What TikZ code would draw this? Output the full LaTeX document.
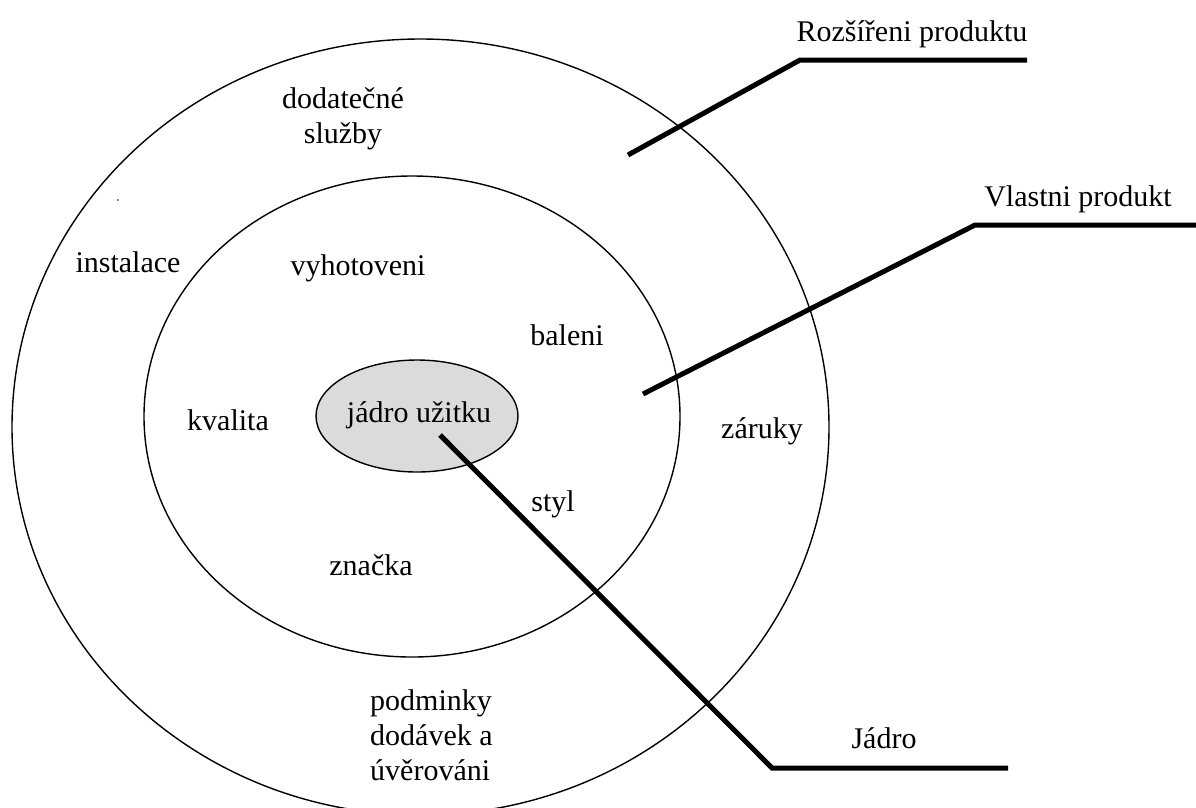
\documentclass[tikz,border=0pt]{standalone}
\usepackage{fontspec}
\setmainfont{Liberation Serif}
\begin{document}
\begin{tikzpicture}[x=1pt,y=-1pt,
  ring/.style={draw=black, line width=1.4pt},
  core/.style={draw=black, line width=1.4pt, fill=black!14},
  lbl/.style={inner sep=0pt, font=\fontsize{30}{35}\selectfont},
  leader/.style={draw=black, line width=5pt, line join=miter}]
\useasboundingbox (0,0) rectangle (1196,807);
\clip (0,0) rectangle (1196,807);
% rings
\draw[ring] (420.5,427) ellipse [x radius=408.5, y radius=388];
\draw[ring] (412,416.5) ellipse [x radius=268, y radius=240.5];
\draw[core] (417,416) ellipse [x radius=101, y radius=56];
\fill (118,200) circle [radius=0.9];
% texts inside
\node[lbl, align=center] (dodat) at (343,119) {dodatečné\\služby};
\node[lbl, anchor=base] (inst) at (128,272) {instalace};
\node[lbl, anchor=base] (vyhot) at (358,275) {vyhotoveni};
\node[lbl, anchor=base] (bal) at (567,345) {baleni};
\node[lbl, anchor=base] (kval) at (228,430) {kvalita};
\node[lbl, anchor=base] (jadro) at (419,422) {jádro užitku};
\node[lbl, anchor=base] (zar) at (762,438) {záruky};
\node[lbl, anchor=base] (styl) at (553,511) {styl};
\node[lbl, anchor=base] (znac) at (371,575) {značka};
\node[lbl, align=left, anchor=north west] (podm) at (370,689) {podminky\\dodávek a\\úvěrováni};
% outside labels
\node[lbl, anchor=base] (rozs) at (912,41) {Rozšířeni produktu};
\node[lbl, anchor=base] (vlast) at (1078,206) {Vlastni produkt};
\node[lbl, anchor=base] (jad) at (884,748) {Jádro};
% leader coordinates
\coordinate (r1) at (628,155);
\coordinate (r2) at (800,60);
\coordinate (r3) at (1027,60);
\coordinate (v1) at (643,394);
\coordinate (v2) at (975,225);
\coordinate (v3) at (1196,225);
\coordinate (j1) at (440,435);
\coordinate (j2) at (772,768);
\coordinate (j3) at (1008,768);
\draw[leader] (r1) -- (r2) -- (r3);
\draw[leader] (v1) -- (v2) -- (v3);
\draw[leader] (j1) -- (j2) -- (j3);
\end{tikzpicture}
\end{document}
